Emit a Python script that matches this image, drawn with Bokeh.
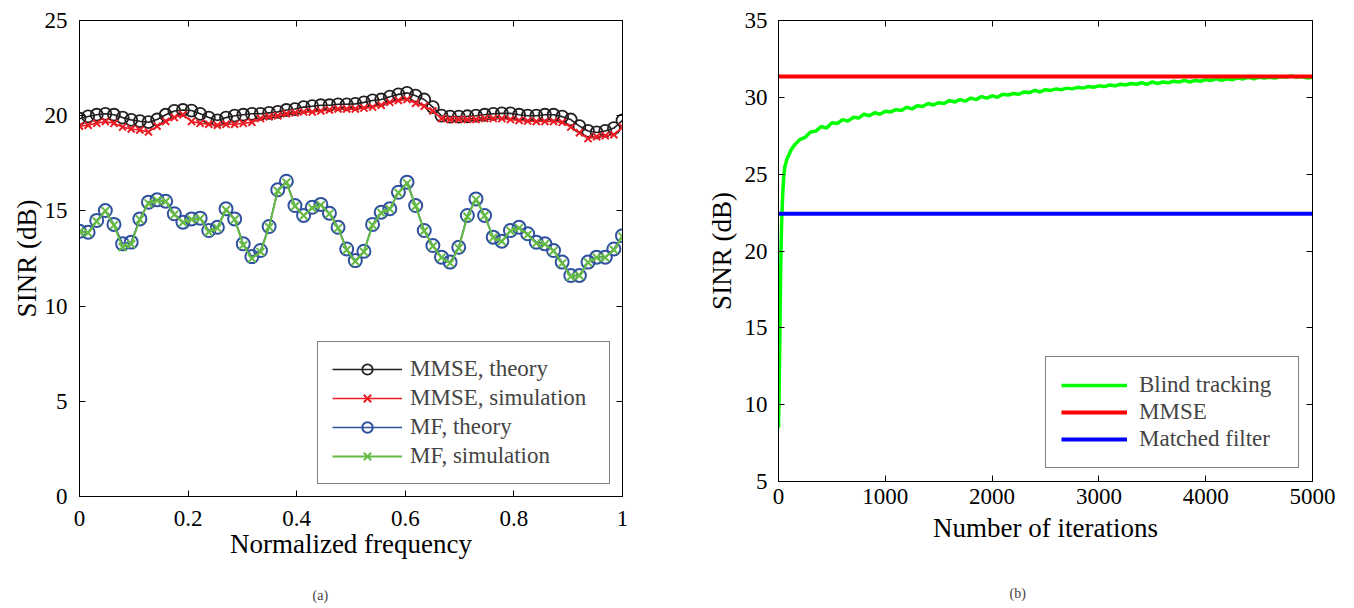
from bokeh.plotting import figure
from bokeh.layouts import row
from bokeh.models import LinearAxis, FixedTicker, Title, Range1d
from bokeh.embed import file_html
from bokeh.resources import INLINE
import numpy as np

FONT = "Liberation Serif"

# ---------------- data: panel (a) ----------------
freq = np.linspace(0, 1, 64)
mmse_theory = [19.84, 19.96, 20.05, 20.10, 20.05, 19.90, 19.78, 19.71, 19.66, 19.80,
               20.05, 20.25, 20.30, 20.27, 20.10, 19.90, 19.75, 19.90, 20.00, 20.05,
               20.10, 20.10, 20.15, 20.20, 20.30, 20.35, 20.45, 20.50, 20.55, 20.55,
               20.60, 20.60, 20.62, 20.70, 20.80, 20.85, 21.00, 21.12, 21.20, 21.05,
               20.85, 20.45, 20.00, 19.95, 19.95, 19.97, 20.00, 20.05, 20.10, 20.12,
               20.12, 20.05, 20.00, 20.00, 20.05, 20.05, 19.95, 19.80, 19.45, 19.20,
               19.12, 19.20, 19.35, 19.75]
mmse_sim = [19.45, 19.50, 19.60, 19.70, 19.60, 19.40, 19.30, 19.25, 19.15, 19.45,
            19.70, 19.90, 20.05, 19.70, 19.60, 19.55, 19.50, 19.55, 19.55, 19.60,
            19.65, 19.85, 19.95, 20.00, 20.10, 20.15, 20.20, 20.20, 20.25, 20.30,
            20.35, 20.35, 20.35, 20.40, 20.45, 20.55, 20.70, 20.80, 20.85, 20.65,
            20.50, 20.25, 19.85, 19.80, 19.80, 19.80, 19.80, 19.85, 19.85, 19.85,
            19.80, 19.75, 19.72, 19.70, 19.70, 19.70, 19.65, 19.40, 19.10, 18.80,
            18.90, 18.95, 19.00, 19.40]
mf_theory = [13.93, 13.88, 14.50, 15.02, 14.29, 13.27, 13.36, 14.58, 15.46, 15.58,
             15.51, 14.85, 14.41, 14.58, 14.62, 13.97, 14.14, 15.11, 14.58, 13.27,
             12.60, 12.92, 14.18, 16.11, 16.56, 15.28, 14.76, 15.19, 15.34, 14.88,
             14.14, 13.00, 12.39, 12.88, 14.29, 14.93, 15.11, 15.98, 16.51, 15.28,
             13.97, 13.18, 12.57, 12.31, 13.09, 14.76, 15.63, 14.76, 13.62, 13.41,
             13.97, 14.14, 13.80, 13.36, 13.27, 12.92, 12.31, 11.61, 11.61, 12.31,
             12.57, 12.57, 13.00, 13.70]
mf_sim = [13.90, 13.85, 14.45, 15.00, 14.25, 13.10, 13.25, 14.55, 15.40, 15.55,
          15.50, 14.80, 14.40, 14.55, 14.60, 13.90, 14.10, 15.05, 14.55, 13.20,
          12.50, 12.85, 14.15, 16.05, 16.50, 15.25, 14.75, 15.15, 15.30, 14.85,
          14.10, 12.95, 12.35, 12.85, 14.25, 14.90, 15.10, 15.95, 16.45, 15.25,
          13.95, 13.15, 12.55, 12.25, 13.05, 14.70, 15.60, 14.75, 13.60, 13.40,
          13.95, 14.10, 13.75, 13.30, 13.25, 12.90, 12.25, 11.55, 11.60, 12.30,
          12.55, 12.55, 12.95, 13.65]

# ---------------- data: panel (b) ----------------
iters = [0, 5, 10, 15, 20, 25, 30, 40, 50, 60, 80, 100, 120, 150,
         200, 250, 300, 350, 400, 450, 500, 550, 600, 650, 700, 750, 800, 850, 900, 950,
         1000, 1050, 1100, 1150, 1200, 1250, 1300, 1350, 1400, 1450, 1500, 1550, 1600,
         1650, 1700, 1750, 1800, 1850, 1900, 1950, 2000, 2050, 2100, 2150, 2200, 2250,
         2300, 2350, 2400, 2450, 2500, 2550, 2600, 2650, 2700, 2750, 2800, 2850, 2900,
         2950, 3000, 3050, 3100, 3150, 3200, 3250, 3300, 3350, 3400, 3450, 3500, 3550,
         3600, 3650, 3700, 3750, 3800, 3850, 3900, 3950, 4000, 4050, 4100, 4150, 4200,
         4250, 4300, 4350, 4400, 4450, 4500, 4550, 4600, 4650, 4700, 4750, 4800, 4850,
         4900, 4950, 5000]
sinr_blind = [8.5, 10.5, 13.0, 16.0, 18.5, 20.5, 22.0, 23.8, 24.9, 25.5, 26.0, 26.3, 26.6, 26.9,
              27.25, 27.40, 27.75, 27.80, 28.10, 28.00, 28.35, 28.30, 28.55, 28.45, 28.70,
              28.65, 28.90, 28.80, 29.00, 28.90, 29.10, 29.05, 29.20, 29.15, 29.35, 29.25,
              29.45, 29.40, 29.60, 29.50, 29.65, 29.60, 29.80, 29.70, 29.85, 29.75, 29.95,
              29.85, 30.05, 29.95, 30.10, 30.00, 30.20, 30.15, 30.25, 30.20, 30.35, 30.30,
              30.45, 30.35, 30.50, 30.45, 30.55, 30.50, 30.60, 30.55, 30.65, 30.60, 30.70,
              30.65, 30.75, 30.70, 30.80, 30.75, 30.85, 30.80, 30.90, 30.85, 30.95, 30.85,
              31.00, 30.90, 31.00, 30.95, 31.05, 31.00, 31.10, 31.00, 31.10, 31.05, 31.15,
              31.10, 31.20, 31.10, 31.20, 31.15, 31.25, 31.20, 31.30, 31.20, 31.30, 31.25,
              31.30, 31.25, 31.35, 31.30, 31.40, 31.30, 31.35, 31.25, 31.30]
iter_span = [0, 5000]
mmse_level = [31.35, 31.35]
mf_level = [22.42, 22.42]


def style_axis(ax, size="23px"):
    ax.axis_line_color = "black"
    ax.axis_line_width = 1
    ax.major_tick_in = 6
    ax.major_tick_out = 0
    ax.minor_tick_in = 0
    ax.minor_tick_out = 0
    ax.major_tick_line_color = "black"
    ax.major_label_text_font = FONT
    ax.major_label_text_font_size = size
    ax.major_label_text_color = "black"
    ax.axis_label_text_font = FONT
    ax.axis_label_text_font_size = "27px"
    ax.axis_label_text_font_style = "normal"
    ax.axis_label_text_color = "black"


def box(p, xticks, yticks):
    p.xgrid.visible = False
    p.ygrid.visible = False
    p.outline_line_color = "black"
    p.outline_line_alpha = 1
    bottom = p.below[0]
    left = p.left[0]
    bottom.ticker = FixedTicker(ticks=xticks)
    left.ticker = FixedTicker(ticks=yticks)
    style_axis(bottom)
    style_axis(left)
    top = LinearAxis(ticker=FixedTicker(ticks=xticks),
                     major_label_overrides={t: "" for t in xticks})
    right = LinearAxis(ticker=FixedTicker(ticks=yticks),
                       major_label_overrides={t: "" for t in yticks})
    for ax in (top, right):
        style_axis(ax, "1px")
        ax.major_label_standoff = 0
    p.add_layout(top, "above")
    p.add_layout(right, "right")
    return bottom, left


# ---------------- panel (a) ----------------
pa = figure(frame_width=543, frame_height=476, x_range=Range1d(0, 1), y_range=Range1d(0, 25),
            output_backend="svg", toolbar_location=None, title=None,
            min_border_left=75, min_border_right=81, min_border_top=20, min_border_bottom=110)
pa.margin = (0, 0, 0, 4)
xa, ya = box(pa, [0, 0.2, 0.4, 0.6, 0.8, 1], [0, 5, 10, 15, 20, 25])
xa.major_label_overrides = {0: "0", 0.2: "0.2", 0.4: "0.4", 0.6: "0.6", 0.8: "0.8", 1: "1"}
xa.axis_label = "Normalized frequency"
ya.axis_label = "SINR (dB)"
xa.major_label_standoff = 14
xa.axis_label_standoff = 0
ya.major_label_standoff = 12
ya.axis_label_standoff = 0

BLACK = "#231f20"
RED = "#ed1c24"
BLUE = "#3050a0"
GREEN = "#66bb44"

pa.line(freq, mmse_theory, color=BLACK, line_width=1.6, legend_label="MMSE, theory")
pa.scatter(freq, mmse_theory, marker="circle", size=12, fill_color=None, line_color=BLACK,
           line_width=1.8, legend_label="MMSE, theory")
pa.line(freq, mmse_sim, color=RED, line_width=1.6, legend_label="MMSE, simulation")
pa.scatter(freq, mmse_sim, marker="x", size=10, line_color=RED, line_width=2,
           legend_label="MMSE, simulation")
pa.line(freq, mf_theory, color=BLUE, line_width=1.6, legend_label="MF, theory")
pa.scatter(freq, mf_theory, marker="circle", size=13, fill_color=None, line_color=BLUE,
           line_width=2, legend_label="MF, theory")
pa.line(freq, mf_sim, color=GREEN, line_width=2, legend_label="MF, simulation")
pa.scatter(freq, mf_sim, marker="x", size=11, line_color=GREEN, line_width=2,
           legend_label="MF, simulation")

lg = pa.legend[0]
lg.location = "bottom_right"
lg.margin = 12
lg.border_line_color = "black"
lg.border_line_width = 1
lg.background_fill_alpha = 1
lg.label_text_font = FONT
lg.label_text_font_size = "23px"
lg.glyph_width = 70
lg.glyph_height = 26
lg.label_height = 26
lg.label_width = 185
lg.spacing = 3
lg.padding = 14
lg.label_standoff = 8

pa.add_layout(Title(text="(a)", align="left", text_font=FONT, text_font_size="14px",
                    text_font_style="normal", offset=233, standoff=48), "below")

# ---------------- panel (b) ----------------
pb = figure(frame_width=534, frame_height=461, x_range=Range1d(0, 5000), y_range=Range1d(5, 35),
            output_backend="svg", toolbar_location=None, title=None,
            min_border_left=70, min_border_right=25, min_border_top=20, min_border_bottom=125)
xb, yb = box(pb, [0, 1000, 2000, 3000, 4000, 5000], [5, 10, 15, 20, 25, 30, 35])
xb.axis_label = "Number of iterations"
yb.axis_label = "SINR (dB)"
xb.major_label_standoff = 7
xb.axis_label_standoff = 6
yb.major_label_standoff = 11
yb.axis_label_standoff = 5

pb.line(iters, sinr_blind, color="#00ff00", line_width=3.5, legend_label="Blind tracking")
pb.line(iter_span, mmse_level, color="#ff0000", line_width=4, legend_label="MMSE")
pb.line(iter_span, mf_level, color="#0000ff", line_width=4, legend_label="Matched filter")

lb = pb.legend[0]
lb.location = "bottom_right"
lb.margin = 13
lb.border_line_color = "black"
lb.border_line_width = 1
lb.background_fill_alpha = 1
lb.label_text_font = FONT
lb.label_text_font_size = "23px"
lb.glyph_width = 66
lb.glyph_height = 26
lb.label_height = 26
lb.label_width = 144
lb.spacing = 1
lb.padding = 15
lb.label_standoff = 12

pb.add_layout(Title(text="(b)", align="left", text_font=FONT, text_font_size="14px",
                    text_font_style="normal", offset=231, standoff=77), "below")

layout = row(pa, pb)
open("out.html", "w").write(file_html(layout, INLINE))
